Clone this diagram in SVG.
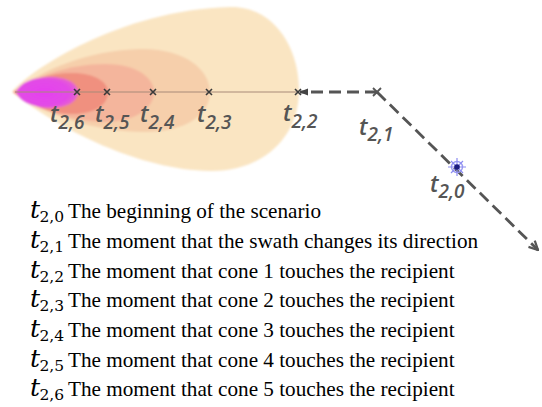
<svg xmlns="http://www.w3.org/2000/svg" width="542" height="407" viewBox="0 0 542 407">
<defs>
<style>
.lbl{font-family:"Open Sans","Noto Sans",sans-serif;font-style:italic;font-weight:600;fill:#555;font-size:23px}
.lbl tspan{font-size:19px}
.cross{stroke:#3a3a3a;stroke-width:1.6;fill:none}
.dash{stroke:#555;stroke-width:2.8;fill:none;stroke-dasharray:12 6}
.lt{font-family:"DejaVu Serif",serif;font-style:italic;font-size:25px;fill:#000}
.ls{font-family:"DejaVu Serif",serif;font-style:normal;font-size:15.5px;fill:#000}
.lx{font-family:"Liberation Serif","Times New Roman",serif;font-size:21.2px;fill:#000}
</style>
<filter id="soft" x="-10%" y="-10%" width="120%" height="120%"><feGaussianBlur stdDeviation="0.8"/></filter>
<radialGradient id="mag" cx="0.45" cy="0.5" r="0.6">
<stop offset="0" stop-color="#e63ff0"/><stop offset="0.7" stop-color="#e24be6"/><stop offset="1" stop-color="#e86ac8"/>
</radialGradient>
<marker id="ah" viewBox="0 0 10 10" refX="9" refY="5" markerWidth="4" markerHeight="4" orient="auto-start-reverse" markerUnits="strokeWidth">
<path d="M1,1 L9,5 L1,9" fill="none" stroke="#555" stroke-width="2"/>
</marker>
<marker id="ahf" viewBox="0 0 10 10" refX="9" refY="5" markerWidth="3.2" markerHeight="3.2" orient="auto" markerUnits="strokeWidth">
<path d="M0,1 L10,5 L0,9 Z" fill="#444"/>
</marker>
</defs>

<g id="cones" filter="url(#soft)">
<path id="cone1" d="M12,92 C30,70 120,10 230,7 C275,6 300,50 299,92 C298,140 260,172 210,171 C140,170 60,130 12,92 Z" fill="#fae5c2"/>
<path id="cone2" d="M14,92 C40,70 90,50 140,49 C185,48 210,70 210,92 C210,115 185,132 145,132 C95,132 45,115 14,92 Z" fill="#f6cfab"/>
<path id="cone3" d="M14,92 C35,76 70,64 105,64 C140,64 154,80 154,92 C154,108 135,122 105,122 C70,122 35,108 14,92 Z" fill="#f4b59c"/>
<path id="cone4" d="M13,92 C30,80 50,73 72,73 C96,73 108,83 108,92 C108,104 96,114 72,114 C48,114 28,104 13,92 Z" fill="#f0907f"/>
<path id="cone5" d="M16,92 C20,82 35,77 50,77 C68,77 78,84 78,92 C78,101 68,108 50,108 C35,108 20,102 16,92 Z" fill="url(#mag)"/>
</g>

<line x1="15" y1="92" x2="298" y2="92" stroke="#a88a78" stroke-width="1"/>

<g id="connectors">
<path class="dash" d="M377,92 L300,92" marker-end="url(#ahf)"/>
<path class="dash" d="M377,92 L538,250" marker-end="url(#ah)"/>
</g>

<g id="t26"><path class="cross" d="M74,89 l6,6 M80,89 l-6,6"/><text class="lbl" x="50" y="122">t<tspan dy="7">2,6</tspan></text></g>
<g id="t25"><path class="cross" d="M104,89 l6,6 M110,89 l-6,6"/><text class="lbl" x="95" y="122">t<tspan dy="7">2,5</tspan></text></g>
<g id="t24"><path class="cross" d="M150,89 l6,6 M156,89 l-6,6"/><text class="lbl" x="140" y="122">t<tspan dy="7">2,4</tspan></text></g>
<g id="t23"><path class="cross" d="M206,89 l6,6 M212,89 l-6,6"/><text class="lbl" x="197" y="122">t<tspan dy="7">2,3</tspan></text></g>
<g id="t22"><path class="cross" d="M295,89 l6,6 M301,89 l-6,6"/><text class="lbl" x="283" y="121">t<tspan dy="7">2,2</tspan></text></g>
<g id="t21"><path d="M373,88 l8,8 M381,88 l-8,8" stroke="#555" stroke-width="1.8" fill="none"/><text class="lbl" x="359" y="135">t<tspan dy="6">2,1</tspan></text></g>
<g id="t20">
<circle cx="457" cy="167" r="5.5" fill="none" stroke="#9a9af2" stroke-width="1.4"/>
<path d="M457,158 V176 M448,167 H466 M451,161 L463,173 M463,161 L451,173" stroke="#8c8cf0" stroke-width="1.2"/>
<circle cx="457" cy="167" r="2.8" fill="#1c1c80"/>
<text class="lbl" x="430" y="192">t<tspan dy="6">2,0</tspan></text>
</g>

<g id="legend">
<text class="lt" x="30" y="218">t</text><text class="ls" x="39.5" y="222">2,0</text><text class="lx" x="68" y="218">The beginning of the scenario</text>
<text class="lt" x="30" y="248">t</text><text class="ls" x="39.5" y="252">2,1</text><text class="lx" x="68" y="248">The moment that the swath changes its direction</text>
<text class="lt" x="30" y="278">t</text><text class="ls" x="39.5" y="282">2,2</text><text class="lx" x="68" y="278">The moment that cone 1 touches the recipient</text>
<text class="lt" x="30" y="307">t</text><text class="ls" x="39.5" y="311">2,3</text><text class="lx" x="68" y="307">The moment that cone 2 touches the recipient</text>
<text class="lt" x="30" y="337">t</text><text class="ls" x="39.5" y="341">2,4</text><text class="lx" x="68" y="337">The moment that cone 3 touches the recipient</text>
<text class="lt" x="30" y="367">t</text><text class="ls" x="39.5" y="371">2,5</text><text class="lx" x="68" y="367">The moment that cone 4 touches the recipient</text>
<text class="lt" x="30" y="396">t</text><text class="ls" x="39.5" y="400">2,6</text><text class="lx" x="68" y="396">The moment that cone 5 touches the recipient</text>
</g>
</svg>
